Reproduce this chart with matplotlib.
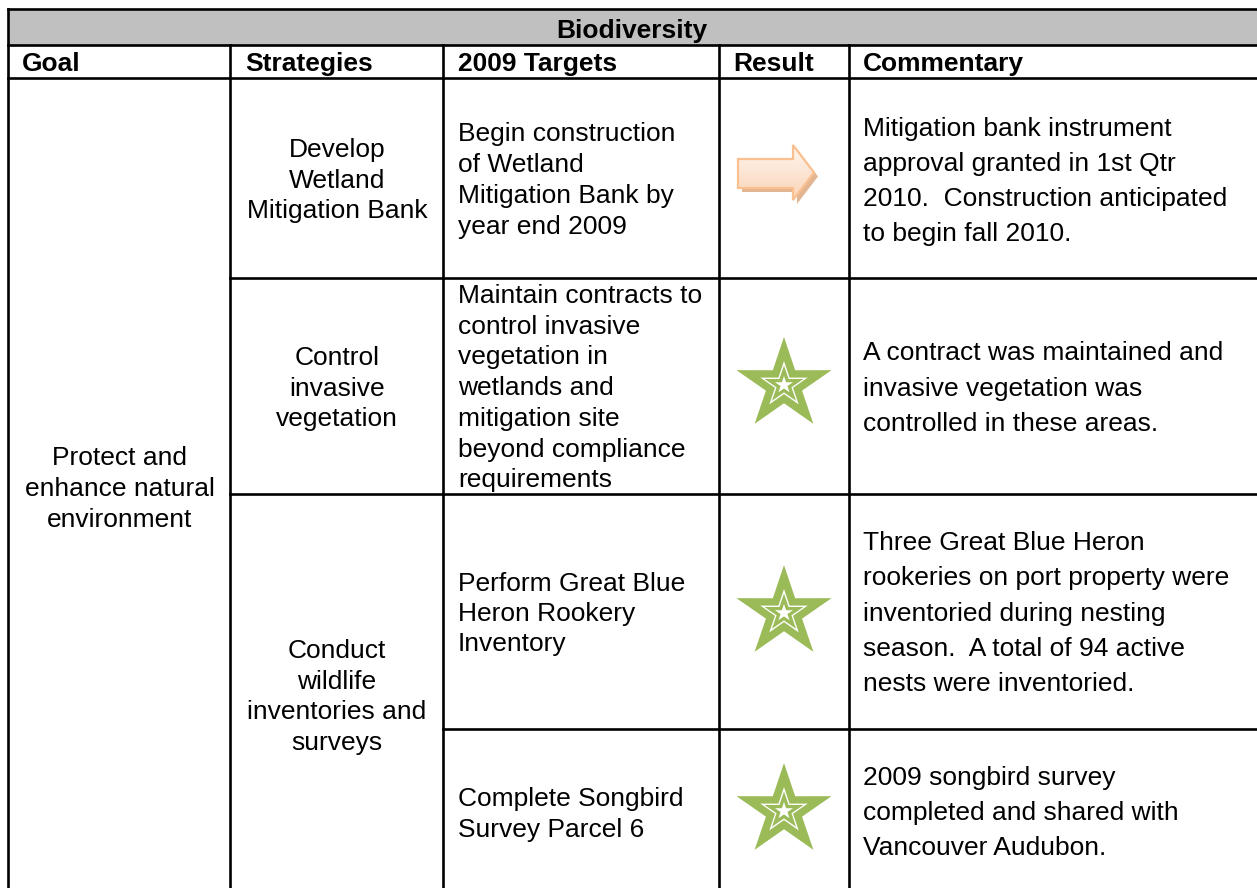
import numpy as np
import matplotlib
matplotlib.use("Agg")
import matplotlib.pyplot as plt
from matplotlib.patches import Polygon

# table content
title = "Biodiversity"
columns = ["Goal", "Strategies", "2009 Targets", "Result", "Commentary"]
goal = ["Protect and", "enhance natural", "environment"]
strategies = [
    ["Develop", "Wetland", "Mitigation Bank"],
    ["Control", "invasive", "vegetation"],
    ["Conduct", "wildlife", "inventories and", "surveys"],
]
targets = [
    ["Begin construction", "of Wetland", "Mitigation Bank by", "year end 2009"],
    ["Maintain contracts to", "control invasive", "vegetation in", "wetlands and",
     "mitigation site", "beyond compliance", "requirements"],
    ["Perform Great Blue", "Heron Rookery", "Inventory"],
    ["Complete Songbird", "Survey Parcel 6"],
]
results = ["arrow", "star", "star", "star"]
commentary = [
    ["Mitigation bank instrument", "approval granted in 1st Qtr",
     "2010.  Construction anticipated", "to begin fall 2010."],
    ["A contract was maintained and", "invasive vegetation was",
     "controlled in these areas."],
    ["Three Great Blue Heron", "rookeries on port property were",
     "inventoried during nesting", "season.  A total of 94 active",
     "nests were inventoried."],
    ["2009 songbird survey", "completed and shared with",
     "Vancouver Audubon."],
]

# layout (pixels)
W, H = 1257, 888
col_x = [8, 230, 443, 719, 849, 1270]
top_y, title_bot, head_bot = 9, 45, 78
row_y = [78, 278, 494, 729, 900]
FS = 19
FONT = "Liberation Sans"
LW = 1.9
GREEN = "#9BBB59"
DY = 2  # nudge text down to match visual centres

fig = plt.figure(figsize=(W / 100, H / 100), dpi=100)
ax = fig.add_axes([0, 0, 1, 1])
ax.set_xlim(0, W)
ax.set_ylim(H, 0)
ax.axis("off")


def hline(y, x0, x1):
    ax.plot([x0, x1], [y, y], color="black", lw=LW, solid_capstyle="projecting")


def vline(x, y0, y1):
    ax.plot([x, x], [y0, y1], color="black", lw=LW, solid_capstyle="projecting")


# title band
ax.add_patch(plt.Rectangle((col_x[0], top_y), W + 20, title_bot - top_y,
                           facecolor="#C0C0C0", edgecolor="none"))
hline(top_y, col_x[0], W + 20)
hline(title_bot, col_x[0], W + 20)
hline(head_bot, col_x[0], W + 20)
vline(col_x[0], top_y, H + 20)
for x in col_x[1:5]:
    vline(x, title_bot, H + 20)
# row separators (goal column spans all, strategies spans rows 3-4)
hline(row_y[1], col_x[1], W + 20)
hline(row_y[2], col_x[1], W + 20)
hline(row_y[3], col_x[2], W + 20)

ax.text(632, 29 + DY, title, fontsize=FS, fontweight="bold", family=FONT,
        ha="center", va="center")
head_x = [22, 245, 458, 733, 863]
for x, c in zip(head_x, columns):
    ax.text(x, 62 + DY, c, fontsize=FS, fontweight="bold", family=FONT,
            ha="left", va="center")


def block(lines, x, y0, dy, ha="left"):
    for i, s in enumerate(lines):
        ax.text(x, y0 + DY + i * dy, s, fontsize=FS, family=FONT, ha=ha, va="center")


block(goal, 120, 456, 31, "center")
for lines, y0 in zip(strategies, [148, 356, 649]):
    block(lines, 337, y0, 30.7, "center")
for lines, y0, dy in zip(targets, [132, 294, 582, 797], [31, 30.7, 30, 31]):
    block(lines, 458, y0, dy)
for lines, y0, dy in zip(commentary, [127, 351, 541, 776], [35, 35.5, 35.3, 35]):
    block(lines, 863, y0, dy)


def star_pts(cx, cy, rx, ry, ratio=0.38):
    ang = np.pi / 2 + np.arange(10) * np.pi / 5
    r = np.where(np.arange(10) % 2 == 0, 1.0, ratio)
    return np.column_stack([cx + rx * r * np.cos(ang), cy - ry * r * np.sin(ang)])


def draw_star(cx, cy):
    ax.add_patch(Polygon(star_pts(cx, cy, 50, 48), closed=True, facecolor=GREEN, edgecolor="none"))
    ax.add_patch(Polygon(star_pts(cx, cy, 25, 24), closed=True, facecolor="white", edgecolor="none"))
    ax.add_patch(Polygon(star_pts(cx, cy, 20.5, 19.5), closed=True, facecolor=GREEN, edgecolor="none"))
    ax.add_patch(Polygon(star_pts(cx, cy, 9.5, 9), closed=True, facecolor="white", edgecolor="none"))


def draw_arrow(x0, ytop, ybot, xh, hy0, hy1, xt):
    yc = (hy0 + hy1) / 2
    pts = np.array([[x0, ytop], [xh, ytop], [xh, hy0], [xt, yc],
                    [xh, hy1], [xh, ybot], [x0, ybot]])
    ax.add_patch(Polygon(pts + [4, 4], closed=True, facecolor="#DDAA80",
                         edgecolor="none", alpha=0.85))
    grad = np.linspace(0, 1, 64)[:, None, None]
    c0 = np.array([1.0, 0.97, 0.94])
    c1 = np.array([0.98, 0.83, 0.72])
    img = c0 * (1 - grad) + c1 * grad
    im = ax.imshow(img, extent=[x0, xt, hy1, hy0], origin="upper",
                   aspect="auto", zorder=2)
    clip = Polygon(pts, closed=True, facecolor="none", edgecolor="none",
                   transform=ax.transData)
    ax.add_patch(clip)
    im.set_clip_path(clip)
    ax.add_patch(Polygon(pts, closed=True, facecolor="none",
                         edgecolor="#FAC090", lw=1.6, zorder=3))


res_cy = [173, 385, 613, 811]
for kind, cy in zip(results, res_cy):
    if kind == "arrow":
        draw_arrow(738, 159, 188, 793, 145, 200, 814)
    else:
        draw_star(784, cy)

ax.set_xlim(0, W)
ax.set_ylim(H, 0)
fig.savefig("out.png", dpi=100)
